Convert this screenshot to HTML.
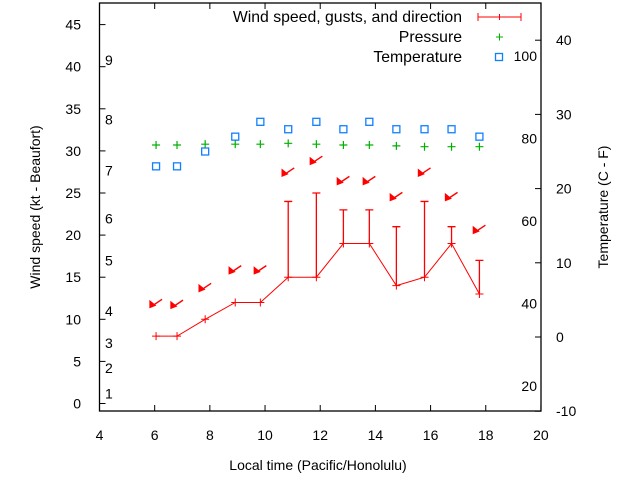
<!DOCTYPE html>
<html><head><meta charset="utf-8"><style>
body{margin:0;background:#fff}
svg{display:block;font-family:"Liberation Sans",sans-serif;font-size:14px}
.lg{font-size:15.8px}
</style></head><body>
<svg id="c" width="640" height="480">
<rect x="99.5" y="3" width="441.5" height="408" fill="none" stroke="#000" stroke-width="1.3"/>
<g id="g"></g>
<text x="318" y="470" text-anchor="middle">Local time (Pacific/Honolulu)</text>
<text transform="translate(40,207) rotate(-90)" text-anchor="middle">Wind speed (kt - Beaufort)</text>
<text transform="translate(608,207) rotate(-90)" text-anchor="middle">Temperature (C - F)</text>
<g>
<text class="lg" x="462" y="22" text-anchor="end">Wind speed, gusts, and direction</text>
<path d="M478 17H521M478 13V21M521 13V21M499.5 14V20" stroke="red" stroke-width="1"/>
<text class="lg" x="462" y="42" text-anchor="end">Pressure</text>
<path d="M496 37H503M499.5 33.5V40.5" stroke="#00b000"/>
<text class="lg" x="462" y="62" text-anchor="end">Temperature</text>
<rect x="495.5" y="53.5" width="7" height="7" fill="none" stroke="#1080ff" stroke-width="1.3"/>
</g>
</svg>
<script>
const hours=[6.05,6.81,7.83,8.92,9.83,10.84,11.86,12.84,13.78,14.76,15.78,16.76,17.77];
const speed=[8,8,10,12,12,15,15,19,19,14,15,19,13];
const gusts=[null,null,null,null,null,24,25,23,23,21,24,21,17];
const arrowY=[11.9,11.8,13.8,15.9,15.9,27.5,28.9,26.5,26.5,24.6,27.5,24.6,20.7];
const pressure=[30.7,30.7,30.8,30.8,30.8,30.9,30.8,30.7,30.7,30.6,30.5,30.5,30.5];
const tempC=[23,23,25,27,29,28,29,28,29,28,28,28,27];
const xTicks=[4,6,8,10,12,14,16,18,20];
const yTicks=[0,5,10,15,20,25,30,35,40,45];
const y2Ticks=[-10,0,10,20,30,40];
const beaufort=[[1,1.2],[2,4.2],[3,7.2],[4,11],[5,17],[6,22],[7,27.7],[8,33.7],[9,40.8]];
const fahr=[[20,2.1],[40,11.9],[60,21.7],[80,31.5],[100,41.3]];
const X=h=>99.5+(h-4)*27.59, Y=v=>403.5-v*8.42, Y2=t=>337-t*7.42;
const g=document.getElementById('g'),NS='http://www.w3.org/2000/svg';
function mk(t,a,txt){const e=document.createElementNS(NS,t);for(const k in a)e.setAttribute(k,a[k]);if(txt!=null)e.textContent=txt;g.appendChild(e);return e;}
xTicks.forEach(t=>{const x=X(t);
const e=mk('path',{d:`M${x} 411v-6M${x} 3v6`,stroke:'#000'});


const l=mk('text',{x:x,y:440,'text-anchor':'middle'},t);

});
yTicks.forEach(t=>{const y=Y(t);
const e=mk('path',{d:`M99.5 ${y}h6`,stroke:'#000'});


const l=mk('text',{x:81,y:y+5,'text-anchor':'end'},t);

});
y2Ticks.forEach(t=>{const y=Y2(t);
const e=mk('path',{d:`M541 ${y}h-6`,stroke:'#000'});


const l=mk('text',{x:556,y:y+5},t);

});
beaufort.forEach(([b,v])=>{const l=mk('text',{x:105,y:Y(v)+5},b);

});
fahr.forEach(([f,v])=>{const l=mk('text',{x:537,y:Y(v)+5,'text-anchor':'end'},f);

});
const pl=mk('polyline',{points:hours.map((h,i)=>X(h)+','+Y(speed[i])).join(' '),fill:'none',stroke:'red'});


hours.forEach((h,i)=>{const x=X(h),y=Y(speed[i]);
const c=mk('path',{d:`M${x-4} ${y}h8M${x} ${y-4}v8`,stroke:'red'});


if(gusts[i]!=null){const gy=Y(gusts[i]);
const e=mk('path',{d:`M${x} ${y}V${gy}M${x-4} ${gy}h8`,stroke:'red','stroke-width':1.3});

}
const ay=Y(arrowY[i]);
const a=mk('path',{d:`M${x+6} ${ay-4}L${x-3} ${ay+2}M${x-6} ${ay+4}l0-6l5 4z`,stroke:'red',fill:'red','stroke-width':1.4});


const py=Y(pressure[i]);
const p=mk('path',{d:`M${x-4} ${py}h8M${x} ${py-4}v8`,stroke:'#00b000','stroke-width':1.2});


const ty=Y2(tempC[i]);
const s=mk('rect',{x:x-3.5,y:ty-3.5,width:7,height:7,fill:'none',stroke:'#1080ff','stroke-width':1.3});

});
</script>
</body></html>
